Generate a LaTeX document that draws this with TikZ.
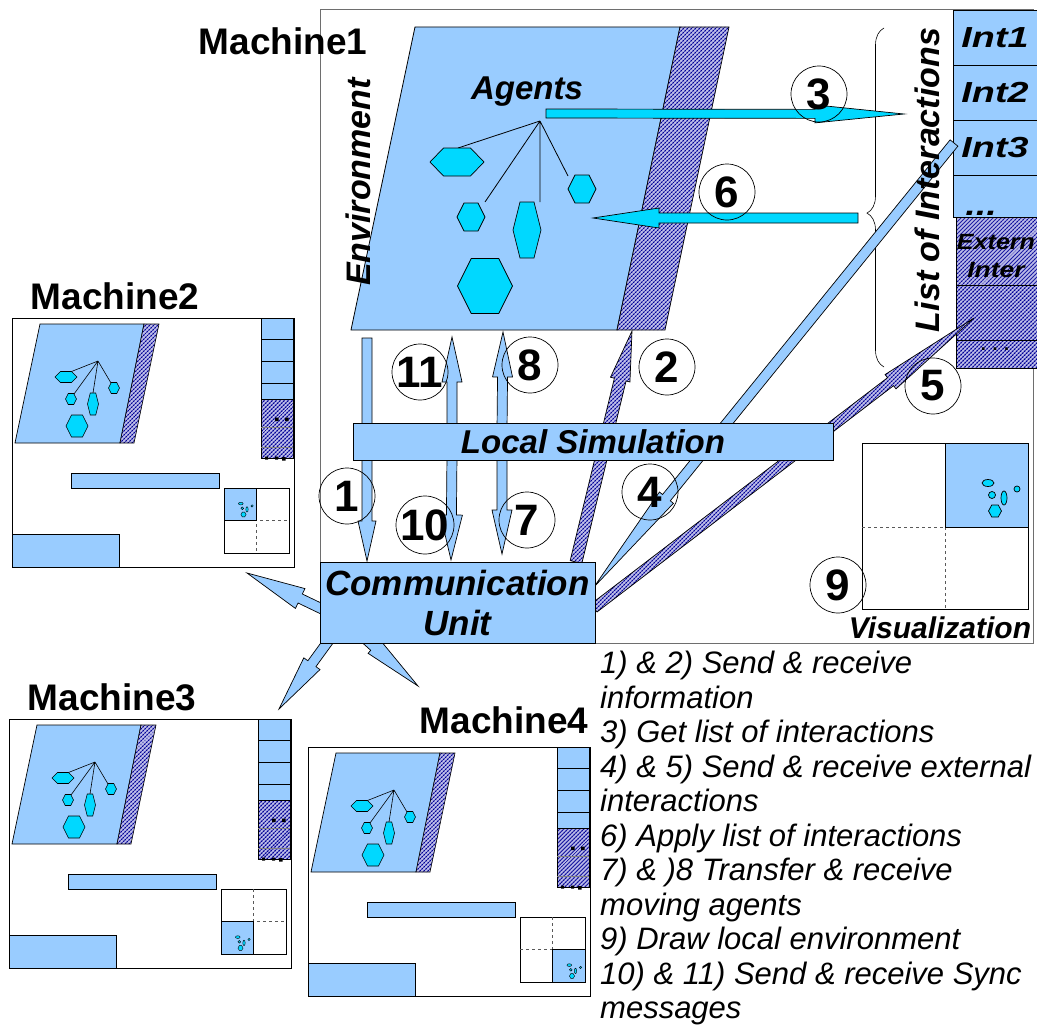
\documentclass[tikz,border=0pt]{standalone}
\usepackage{fontspec}
\usepackage{graphicx}
\setmainfont{Liberation Sans}
\usetikzlibrary{calc,patterns,patterns.meta,decorations.pathreplacing}
\definecolor{lb}{RGB}{153,204,255}
\definecolor{cy}{RGB}{0,216,255}
\definecolor{nv}{RGB}{0,0,150}
\definecolor{hbg}{RGB}{205,205,240}
\definecolor{fr}{RGB}{110,110,110}

\tikzdeclarepattern{
  name=xgrid,
  type=uncolored,
  bottom left={(0pt,0pt)},
  top right={(3.2pt,3.2pt)},
  tile size={(3.2pt,3.2pt)},
  tile transformation={rotate=45},
  code={
    \fill (0pt,1.1pt) rectangle (3.2pt,2.1pt);
    \fill (1.1pt,0pt) rectangle (2.1pt,3.2pt);
  }
}

% block arrow: start, end, half bar width, half head width, head length, style
\newcommand{\blockarrow}[6]{%
  \coordinate (baA) at (#1);
  \coordinate (baB) at (#2);
  \coordinate (baH) at ($(baB)!#5!(baA)$);
  \draw[#6] ($(baA)!#3!90:(baB)$) -- ($(baH)!#3!90:(baB)$) -- ($(baH)!#4!90:(baB)$)
    -- (baB) -- ($(baH)!#4!-90:(baB)$) -- ($(baH)!#3!-90:(baB)$) -- ($(baA)!#3!-90:(baB)$) -- cycle;
}
% hexagon: [line width]{cx}{cy}{w}{h}
\newcommand{\hexag}[5][0.7pt]{%
  \draw[agent, line width=#1] ({#2-#4/2},#3) -- ({#2-#4/4},{#3-#5/2}) -- ({#2+#4/4},{#3-#5/2})
    -- ({#2+#4/2},#3) -- ({#2+#4/4},{#3+#5/2}) -- ({#2-#4/4},{#3+#5/2}) -- cycle;
}
% agents in a visualization quadrant (quadrant size 83)
\newcommand{\vizag}[1]{%
  \draw[agent, line width=#1] (43,40) ellipse [x radius=6, y radius=3.5];
  \draw[agent, line width=#1] (47,52) circle [radius=3.5];
  \draw[agent, line width=#1] (72,46) circle [radius=3];
  \draw[agent, line width=#1] (59,55) ellipse [x radius=3, y radius=7];
  \hexag[#1]{50}{68}{13}{12}
}
% small machine: x, y, quadrant offset x, quadrant offset y
\newcommand{\smallmach}[4]{%
\begin{scope}[shift={(#1,#2)}]
  \draw[line width=0.8pt] (0,0) rectangle (282,249);
  \draw[box, line width=0.7pt] (28,6) -- (132,6) -- (108,125) -- (3,125) -- cycle;
  \draw[hatch, line width=0.6pt] (132,6) -- (147,6) -- (122,125) -- (108,125) -- cycle;
  \draw[line width=0.6pt] (86,43) -- (59.5,53.5) (86,43) -- (62,76) (86,43) -- (81,75) (86,43) -- (99,65);
  \hexag[0.6pt]{54}{59}{22}{11}
  \hexag[0.6pt]{59}{81}{11}{11}
  \hexag[0.6pt]{81}{86}{11}{22}
  \hexag[0.6pt]{102}{70}{11}{11}
  \hexag[0.6pt]{65}{108}{22}{22}
  \draw[box, line width=0.6pt] (249,0) rectangle (281,81);
  \draw[line width=0.6pt] (249,21) -- (281,21) (249,43) -- (281,43) (249,65) -- (281,65);
  \draw[hatch, line width=0.6pt] (249,81) rectangle (281,140);
  \draw[gray, line width=0.6pt] (249,109) -- (281,109) (249,129) -- (281,129);
  \fill (263,99.5) rectangle ++(3.5,3.5) (273,99.5) rectangle ++(3.5,3.5)
        (253,138.5) rectangle ++(3,3) (263,138.5) rectangle ++(3,3) (270,139) rectangle ++(3.5,3.5);
  \draw[box, line width=0.6pt] (59,155) rectangle (207,170);
  \draw[box, line width=0.6pt] (0,216) rectangle (107,249);
  \draw[line width=0.6pt] (212,170) rectangle (277,235);
  \draw[dashed, line width=0.6pt, gray!70!black] (244.5,170) -- (244.5,235) (212,202.5) -- (277,202.5);
  \draw[box, line width=0.6pt] ({212+#3},{170+#4}) rectangle ++(32.5,32.5);
  \begin{scope}[shift={({212+#3},{170+#4})}, scale=0.39]
    \vizag{0.4pt}
  \end{scope}
\end{scope}}

\begin{document}
\begin{tikzpicture}[x=1pt,y=-1pt,
  box/.style={draw=black, fill=lb, line width=0.8pt, inner sep=0pt},
  hatch/.style={preaction={fill=hbg}, pattern=xgrid, pattern color=nv, draw=black, line width=0.7pt},
  agent/.style={draw=black, fill=cy, line width=0.7pt},
  numc/.style={circle, draw=black, line width=0.7pt, minimum size=56pt, inner sep=0pt, font=\fontsize{44}{44}\selectfont\bfseries},
  lbl/.style={inner sep=0pt, font=\fontsize{37}{37}\selectfont\bfseries},
  bi/.style={inner sep=0pt, font=\fontsize{#1}{#1}\selectfont\bfseries\itshape},
  larrow/.style={draw=black, fill=lb, line width=0.7pt},
  carrow/.style={draw=black, fill=cy, line width=0.7pt},
  harrow/.style={hatch, line width=0.7pt},
]
\useasboundingbox (0,0) rectangle (1037,1025);
\fill[white] (0,0) rectangle (1037,1025);

% ---------------- Machine 1 ----------------
\draw[line width=1pt, fr] (320,10) rectangle (1033,643);
\node[lbl] (m1lbl) at (283,41) {Machine1};

% list of interactions
\node[box, minimum width=84pt, minimum height=55pt, bi=29] (int1) at (995,37.5) {\scalebox{1.3}[1]{Int1}};
\node[box, minimum width=84pt, minimum height=55pt, bi=29] (int2) at (995,92.5) {\scalebox{1.3}[1]{Int2}};
\node[box, minimum width=84pt, minimum height=55pt, bi=29] (int3) at (995,147.5) {\scalebox{1.3}[1]{Int3}};
\node[box, minimum width=84pt, minimum height=42pt] (int4) at (995,196) {};
\node[bi=29, anchor=south] (int4t) at (981,216) {\scalebox{1.3}[1]{...}};
\node[hatch, minimum width=81pt, minimum height=68pt, inner sep=0pt] (ext1) at (996.5,251) {};
\node[hatch, minimum width=81pt, minimum height=55pt, inner sep=0pt] (ext2) at (996.5,312.5) {};
\node[hatch, minimum width=81pt, minimum height=28pt, inner sep=0pt] (ext3) at (996.5,354) {};
\node[inner sep=0pt, align=center, font=\fontsize{22}{28}\selectfont\bfseries\itshape] (exttxt) at (996,256)
  {\scalebox{1.14}[1]{Extern}\\\scalebox{1.2}[1]{Inter}};
\node[inner sep=0pt, font=\fontsize{18}{18}\selectfont\bfseries] (ext3t) at (995,349) {. . .};

% brace
\draw[decorate, decoration={brace, amplitude=17pt, aspect=0.454}, line width=0.6pt] (884,367) -- (884,28);

% environment
\draw[box] (415,27) -- (680,27) -- (617,330) -- (351,330) -- cycle;
\draw[hatch] (680,27) -- (729,27) -- (665,330) -- (617,330) -- cycle;
\node[bi=33] (agents) at (527,92) {Agents};
\node[bi=34, rotate=90] (envt) at (358,182) {Environment};
\draw[line width=0.8pt] (540,121) -- (458,148) (540,121) -- (485,202) (540,121) -- (540,202) (540,121) -- (568,176);
\hexag{457}{162}{54}{28}
\hexag{471}{217}{28}{28}
\hexag{527}{230}{28}{56}
\hexag{582}{189}{28}{28}
\hexag{485}{286}{55}{55}

% arrow end points
\coordinate (a3s) at (546,113.5); \coordinate (a3e) at (904,114);
\coordinate (a6s) at (858,218);   \coordinate (a6e) at (593,218);
\coordinate (a1s) at (367,338);   \coordinate (a1e) at (367,561);
\coordinate (a11s) at (452,430);  \coordinate (a11e) at (452,337);
\coordinate (a10s) at (452,455);  \coordinate (a10e) at (451,560);
\coordinate (a8s) at (502,430);   \coordinate (a8e) at (503,332);
\coordinate (a7s) at (502,455);   \coordinate (a7e) at (502,554);
\coordinate (a2s) at (576,562);   \coordinate (a2e) at (632,331);
\coordinate (a4s) at (954,143);   \coordinate (a4e) at (594,587);
\coordinate (a5s) at (594,608);   \coordinate (a5e) at (974,318);
\coordinate (m2s) at (345,620);   \coordinate (m2e) at (247,573);
\coordinate (m3s) at (340,625);   \coordinate (m3e) at (279,709);
\coordinate (m4s) at (350,625);   \coordinate (m4e) at (418,686);

\blockarrow{a3s}{a3e}{4.5pt}{9pt}{89pt}{carrow}
\blockarrow{a6s}{a6e}{5pt}{10pt}{66pt}{carrow}
\blockarrow{a1s}{a1e}{5pt}{9pt}{40pt}{larrow}
\blockarrow{a11s}{a11e}{5pt}{10pt}{45pt}{larrow}
\blockarrow{a10s}{a10e}{5pt}{11pt}{45pt}{larrow}
\blockarrow{a8s}{a8e}{5pt}{10pt}{45pt}{larrow}
\blockarrow{a7s}{a7e}{5pt}{10pt}{44pt}{larrow}
\blockarrow{a2s}{a2e}{6pt}{10pt}{50pt}{harrow}
\blockarrow{a4s}{a4e}{5pt}{9pt}{115pt}{larrow}
\blockarrow{a5s}{a5e}{5pt}{9pt}{105pt}{harrow}

\node[bi=34, rotate=90] (listt) at (927,180) {List of Interactions};

\node[box, minimum width=480pt, minimum height=37pt, bi=33] (locsim) at (593,441.5) {Local Simulation};

\blockarrow{m2s}{m2e}{5pt}{11pt}{59pt}{larrow}
\blockarrow{m3s}{m3e}{5pt}{10pt}{56pt}{larrow}
\blockarrow{m4s}{m4e}{5pt}{9pt}{59pt}{larrow}

\node[box, minimum width=275pt, minimum height=81pt, align=center, font=\fontsize{35}{40}\selectfont\bfseries\itshape] (comm) at (457.5,602.5) {Communication\\Unit};

% visualization
\draw[line width=0.8pt] (862,443) rectangle (1028,609);
\draw[dashed, line width=0.7pt, gray!70!black] (945,443) -- (945,609) (862,527) -- (1028,527);
\draw[box] (945,443) rectangle (1028,527);
\begin{scope}[shift={(945,443)}]
  \vizag{0.7pt}
\end{scope}
\node[bi=30] (vist) at (940,628) {Visualization};

% numbered circles
\node[numc] (c1) at (347,496) {1};
\node[numc] (c2) at (667,367) {2};
\node[numc] (c3) at (819,94) {3};
\node[numc] (c4) at (650,492) {4};
\node[numc] (c5) at (933,386) {5};
\node[numc] (c6) at (727,192) {6};
\node[numc] (c7) at (527,520) {7};
\node[numc] (c8) at (530,365) {8};
\node[numc] (c9) at (838,585) {9};
\node[numc] (c10) at (425,525) {10};
\node[numc] (c11) at (420,372) {11};

% ---------------- small machines ----------------
\node[lbl] (m2lbl) at (115,296) {Machine2};
\smallmach{12}{318}{0}{0}
\node[lbl] (m3lbl) at (112,697) {Machine3};
\smallmach{9}{719}{0}{32.5}
\node[lbl] (m4lbl) at (504,720) {Machine4};
\smallmach{308}{747}{32.5}{32.5}

% legend
\node[anchor=north west, align=left, inner sep=0pt, font=\fontsize{31}{34.5}\selectfont\itshape] (legend) at (600,651)
{1) \& 2) Send \& receive\\
information\\
3) Get list of interactions\\
4) \& 5) Send \& receive external\\
interactions\\
6) Apply list of interactions\\
7) \& )8 Transfer \& receive\\
moving agents\\
9) Draw local environment\\
10) \& 11) Send \& receive Sync\\
messages};
\end{tikzpicture}
\end{document}
